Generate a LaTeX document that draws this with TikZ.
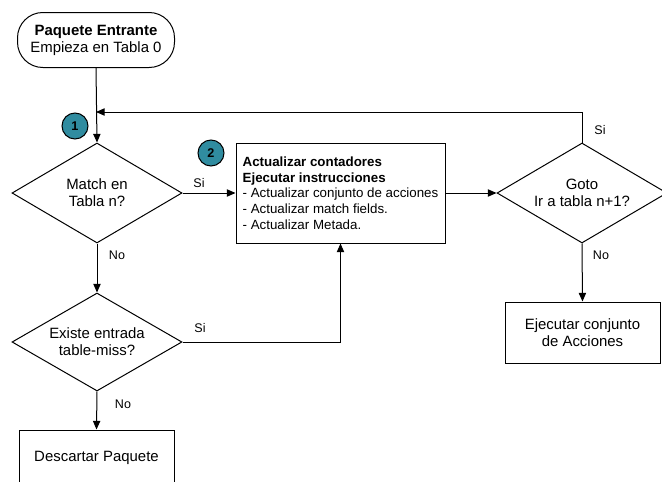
\documentclass[tikz,border=0pt]{standalone}
\usepackage{fontspec}
\setmainfont{Liberation Sans}
\usepackage{tikz}
\usetikzlibrary{calc}
\usetikzlibrary{positioning,shapes.geometric,arrows.meta}
\definecolor{numteal}{RGB}{48,140,160}

\begin{document}
\begin{tikzpicture}[x=0.75pt,y=-0.75pt,line width=0.75pt,
    >={Triangle[length=6.5pt,width=5.5pt]},
    txt/.style={font=\fontsize{11.2}{12.8}\selectfont},
    lbl/.style={font=\fontsize{9.4}{11}\selectfont,inner sep=0pt},
    decision/.style={draw,diamond,aspect=1.7,inner sep=1pt,minimum width=127.5pt,minimum height=75pt,align=center,txt},
    procbox/.style={draw,rectangle,inner sep=2pt,align=center,txt},
    numdot/.style={draw,circle,fill=numteal,minimum size=19.5pt,inner sep=0pt,font=\fontsize{9.5}{10}\selectfont\bfseries}]
    \useasboundingbox (0,0) rectangle (662,482);
    \node[procbox,rounded corners=19pt,minimum width=117.75pt,minimum height=41.25pt] (start) at (96,40) {\textbf{Paquete Entrante}\\Empieza en Tabla 0};
    \node[numdot] (one) at (75,126) {1};
    \node[decision] (match) at (97,193) {Match en\\Tabla n?};
    \node[numdot] (two) at (211,153) {2};
    \node[draw,rectangle,inner sep=0pt,minimum width=156.75pt,minimum height=75pt,align=left,
        font=\fontsize{10}{11.8}\selectfont] (update) at (340.5,193)
        {\textbf{Actualizar contadores}\\\textbf{Ejecutar instrucciones}\\- Actualizar conjunto de acciones\\- Actualizar match fields.\\- Actualizar Metada.};
    \node[decision] (goto) at (582,193) {Goto\\Ir a tabla n+1?};
    \node[procbox,minimum width=116.25pt,minimum height=45.75pt] (exec) at (582.5,332.5) {Ejecutar conjunto\\de Acciones};
    \node[decision,minimum height=73.5pt] (miss) at (97,342) {Existe entrada\\table-miss?};
    \node[procbox,minimum width=116.25pt,minimum height=42pt] (drop) at (96.5,458) {Descartar Paquete};
    \coordinate (back) at (96,112);
    \draw[->] (start.south) -- (match.north);
    \draw[->] (goto.north) |- (back);
    \draw[->] (match.east) -- (update.west);
    \draw[->] (update.east) -- (goto.west);
    \draw[->] (goto.south) -- (exec.north);
    \draw[->] (match.south) -- (miss.north);
    \draw[->] (miss.east) -| (update.south);
    \draw[->] (miss.south) -- (drop.north);
    \node[lbl] (si1) at (199,183) {Si};
    \node[lbl] (no1) at (117,255) {No};
    \node[lbl] (si2) at (200,328) {Si};
    \node[lbl] (no2) at (123,404) {No};
    \node[lbl] (si3) at (600,130) {Si};
    \node[lbl] (no3) at (601,255) {No};
\end{tikzpicture}
\end{document}
